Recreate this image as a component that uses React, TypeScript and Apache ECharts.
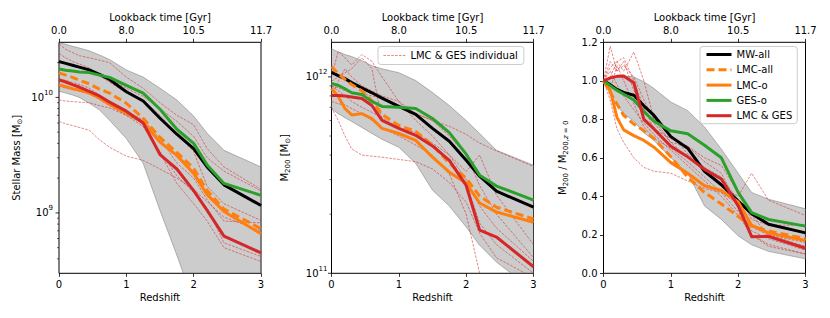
import React, { useEffect, useRef } from 'react';
import * as echarts from 'echarts';

const FONT = 'DejaVu Sans';

// Redshift sample points shared by all curves
const Z = [0, 0.1, 0.2, 0.3, 0.45, 0.6, 0.75, 1.0, 1.25, 1.5, 1.75, 2.0, 2.2, 2.45, 3.0];
const LOOKBACK_LABELS = ['0.0', '8.0', '10.5', '11.7'];

// ---------- Panel 1: stellar mass [Msun] ----------
const SM_BAND_HI = [2.97e10, 2.88e10, 2.77e10, 2.68e10, 2.53e10, 2.33e10, 2.13e10, 1.73e10, 1.5e10, 1.2e10, 9.5e9, 6.9e9, 4.9e9, 3.48e9, 2.5e9];
const SM_BAND_LO = [1.13e10, 1.09e10, 1.05e10, 1.0e10, 8.9e9, 7.8e9, 6.35e9, 4.4e9, 2.69e9, 1.05e9, 4.3e8, 1.7e8, 1.1e8, 7e7, 4e7];
const SM_MW_ALL = [2.04e10, 1.97e10, 1.9e10, 1.83e10, 1.73e10, 1.58e10, 1.43e10, 1.12e10, 9.3e9, 6.6e9, 4.8e9, 3.6e9, 2.5e9, 1.75e9, 1.16e9];
const SM_LMC_ALL = [1.63e10, 1.56e10, 1.49e10, 1.41e10, 1.31e10, 1.18e10, 1.09e10, 8.9e9, 6.6e9, 4.5e9, 3.34e9, 2.43e9, 1.56e9, 1.08e9, 7.3e8];
const SM_LMC_O = [1.29e10, 1.24e10, 1.19e10, 1.16e10, 1.09e10, 9.9e9, 8.7e9, 7.3e9, 6.1e9, 4.1e9, 3.15e9, 2.2e9, 1.44e9, 1.03e9, 6.6e8];
const SM_GES_O = [1.76e10, 1.72e10, 1.69e10, 1.66e10, 1.64e10, 1.56e10, 1.49e10, 1.27e10, 1.09e10, 7.9e9, 5.3e9, 4.0e9, 2.6e9, 1.8e9, 1.42e9];
const SM_LMC_GES = [1.42e10, 1.36e10, 1.29e10, 1.23e10, 1.13e10, 1.03e10, 9.1e9, 7.6e9, 6.0e9, 3.2e9, 2.4e9, 1.56e9, 1.05e9, 6.3e8, 4.5e8];
const SM_IND_1 = [2.9e10, 2.6e10, 2.45e10, 2.3e10, 2.2e10, 2.1e10, 2.0e10, 1.5e10, 1.2e10, 9e9, 7e9, 5.8e9, 3.6e9, 2.5e9, 1.6e9];
const SM_IND_2 = [6.2e9, 5.9e9, 5.7e9, 5.5e9, 5.2e9, 4.3e9, 3.7e9, 3.1e9, 2.85e9, 2.4e9, 2.0e9, 1.6e9, 1.25e9, 9.2e8, 7e8];
const SM_IND_3 = [9.5e9, 9.3e9, 9.2e9, 9.1e9, 9.0e9, 8.5e9, 8.1e9, 7.0e9, 6.0e9, 3.3e9, 1.8e9, 1.2e9, 8.5e8, 5e8, 3.8e8];
const SM_IND_4 = [2.4e10, 2.2e10, 2.05e10, 1.95e10, 1.8e10, 1.55e10, 1.35e10, 1.1e10, 9.5e9, 7e9, 4.8e9, 3.4e9, 1.7e9, 1.2e9, 8.6e8];
const SM_IND_5 = [2.1e10, 2.0e10, 1.9e10, 1.85e10, 1.75e10, 1.6e10, 1.45e10, 1.2e10, 1.02e10, 8.0e9, 6.2e9, 4.6e9, 3.0e9, 2.3e9, 1.55e9];
const SM_IND_6 = [1.25e10, 1.2e10, 1.17e10, 1.13e10, 1.08e10, 9.6e9, 8.5e9, 7.0e9, 5.6e9, 3.4e9, 2.1e9, 1.5e9, 1.1e9, 5.5e8, 4.2e8];
const SM_IND_7 = [1.45e10, 1.4e10, 1.35e10, 1.3e10, 1.2e10, 1.05e10, 9.2e9, 7.6e9, 6.4e9, 4.4e9, 2.7e9, 2.0e9, 1.3e9, 8.5e8, 8.2e8];
const SM_MAJOR_TICKS = [1e9, 1e10];
const SM_MINOR_TICKS = [4e8, 5e8, 6e8, 7e8, 8e8, 9e8, 2e9, 3e9, 4e9, 5e9, 6e9, 7e9, 8e9, 9e9, 2e10];

// ---------- Panel 2: M200 [Msun] ----------
const M_BAND_HI = [1.39e12, 1.34e12, 1.3e12, 1.27e12, 1.21e12, 1.14e12, 1.1e12, 1.05e12, 9.58e11, 8.32e11, 7.15e11, 6.0e11, 5.15e11, 4.23e11, 3.55e11];
const M_BAND_LO = [6.9e11, 6.5e11, 6.2e11, 5.93e11, 5.53e11, 5.15e11, 4.81e11, 4.38e11, 3.63e11, 2.65e11, 2.2e11, 1.72e11, 1.39e11, 1.14e11, 8.2e10];
const M_MW_ALL = [1.055e12, 1.015e12, 9.8e11, 9.35e11, 8.8e11, 8.3e11, 7.8e11, 7.07e11, 6.44e11, 5.47e11, 4.7e11, 3.76e11, 3.12e11, 2.62e11, 2.17e11];
const M_LMC_ALL = [1.13e12, 1.04e12, 9.7e11, 9.14e11, 8.5e11, 7.58e11, 6.44e11, 5.66e11, 5.28e11, 4.5e11, 3.63e11, 3.05e11, 2.47e11, 2.17e11, 1.89e11];
const M_LMC_O = [8.72e11, 7.94e11, 6.9e11, 6.4e11, 6.5e11, 6.14e11, 5.47e11, 5.15e11, 4.75e11, 3.9e11, 3.27e11, 2.87e11, 2.28e11, 2.05e11, 1.82e11];
const M_GES_O = [9.25e11, 9.05e11, 8.7e11, 8.3e11, 8.13e11, 7.5e11, 7.07e11, 7.0e11, 6.9e11, 6.14e11, 5.2e11, 4.04e11, 3.16e11, 2.78e11, 2.36e11];
const M_LMC_GES = [8.04e11, 8.04e11, 8.0e11, 7.9e11, 7.76e11, 7.15e11, 6.0e11, 5.47e11, 5.04e11, 4.45e11, 3.76e11, 2.8e11, 1.66e11, 1.53e11, 1.08e11];
const M_IND_1 = [1.0e12, 1.35e12, 1.25e12, 1.15e12, 1.3e12, 1.2e12, 1.0e12, 7.5e11, 6.5e11, 6.0e11, 5.0e11, 4.0e11, 2.8e11, 2.0e11, 1.2e11];
const M_IND_2 = [9.0e11, 8.8e11, 8.5e11, 8.3e11, 8.2e11, 8.0e11, 7.8e11, 7.0e11, 6.5e11, 6.0e11, 5.6e11, 5.1e11, 4.6e11, 4.2e11, 3.5e11];
const M_IND_3 = [7.5e11, 7.3e11, 7.2e11, 6.9e11, 6.5e11, 6.0e11, 5.5e11, 5.0e11, 4.5e11, 4.0e11, 3.2e11, 2.0e11, 1.0e11, 7e10, 5e10];
const M_IND_4 = [7.0e11, 6.0e11, 5.0e11, 4.3e11, 4.0e11, 3.95e11, 3.9e11, 3.8e11, 3.7e11, 3.4e11, 2.9e11, 2.3e11, 1.6e11, 1.2e11, 9.5e10];
const M_IND_5 = [8.0e11, 9.5e11, 1.1e12, 1.0e12, 9.0e11, 8.5e11, 8.0e11, 7.5e11, 6.0e11, 5.0e11, 4.0e11, 3.3e11, 4.0e11, 2.5e11, 1.4e11];
const M_IND_6 = [9.0e11, 8.5e11, 8.0e11, 7.5e11, 7.0e11, 6.6e11, 6.2e11, 5.5e11, 5.0e11, 4.4e11, 3.8e11, 2.9e11, 1.8e11, 1.4e11, 1.0e11];
const M_IND_7 = [9.5e11, 1.0e12, 1.05e12, 1.1e12, 1.25e12, 1.1e12, 6.0e11, 5.5e11, 5.2e11, 4.6e11, 4.0e11, 3.0e11, 2.2e11, 1.7e11, 1.15e11];
const M_MAJOR_TICKS = [1e11, 1e12];
const M_MINOR_TICKS = [2e11, 3e11, 4e11, 5e11, 6e11, 7e11, 8e11, 9e11];

// ---------- Panel 3: M200 / M200(z=0) ----------
const N_BAND_HI = [1.0, 1.01, 1.02, 1.025, 1.02, 0.995, 0.96, 0.89, 0.845, 0.76, 0.645, 0.52, 0.42, 0.385, 0.335];
const N_BAND_LO = [1.0, 0.93, 0.87, 0.83, 0.79, 0.73, 0.69, 0.6, 0.52, 0.35, 0.28, 0.195, 0.148, 0.114, 0.075];
const N_MW_ALL = [1.0, 0.98, 0.955, 0.94, 0.925, 0.87, 0.82, 0.71, 0.65, 0.53, 0.46, 0.375, 0.31, 0.255, 0.21];
const N_LMC_ALL = [1.0, 0.94, 0.88, 0.82, 0.775, 0.74, 0.7, 0.605, 0.5, 0.42, 0.36, 0.295, 0.245, 0.22, 0.18];
const N_LMC_O = [1.0, 0.95, 0.81, 0.745, 0.715, 0.69, 0.655, 0.575, 0.52, 0.455, 0.43, 0.37, 0.25, 0.21, 0.17];
const N_GES_O = [1.0, 0.975, 0.95, 0.93, 0.9, 0.84, 0.79, 0.74, 0.725, 0.665, 0.6, 0.42, 0.315, 0.28, 0.245];
const N_LMC_GES = [1.0, 1.015, 1.023, 1.025, 0.99, 0.8, 0.75, 0.66, 0.605, 0.54, 0.49, 0.35, 0.19, 0.192, 0.13];
const N_IND_1 = [1.0, 1.18, 1.05, 1.08, 1.02, 0.9, 0.8, 0.72, 0.62, 0.55, 0.5, 0.38, 0.3, 0.2, 0.14];
const N_IND_2 = [1.0, 1.07, 1.1, 1.05, 1.15, 1.0, 0.8, 0.68, 0.66, 0.58, 0.52, 0.35, 0.22, 0.18, 0.12];
const N_IND_3 = [1.0, 0.9, 0.75, 0.68, 0.6, 0.55, 0.53, 0.52, 0.48, 0.44, 0.42, 0.32, 0.2, 0.14, 0.1];
const N_IND_4 = [1.0, 1.1, 1.05, 1.1, 0.95, 0.85, 0.78, 0.68, 0.6, 0.55, 0.45, 0.4, 0.52, 0.38, 0.3];
const N_IND_5 = [1.0, 0.95, 1.08, 1.0, 0.88, 0.76, 0.7, 0.65, 0.58, 0.5, 0.42, 0.36, 0.24, 0.2, 0.16];
const N_IND_6 = [1.0, 1.05, 0.98, 0.92, 0.85, 0.78, 0.72, 0.64, 0.56, 0.48, 0.4, 0.3, 0.2, 0.15, 0.1];
const N_IND_7 = [1.0, 1.02, 1.1, 1.12, 1.0, 0.86, 0.75, 0.7, 0.66, 0.6, 0.56, 0.42, 0.28, 0.25, 0.25];

const BLACK = '#000000';
const ORANGE = '#ff7f0e';
const GREEN = '#2ca02c';
const RED = '#d62728';

const GRID_LEFTS = [59, 331.5, 603.5];
const GRID_TOP = 42.3;
const GRID_W = 202;
const GRID_H = 231;

const IND_NAME = 'LMC & GES individual';

function mainSeries(name: string, values: number[], color: string, dashed: boolean, p: number) {
  return {
    type: 'line',
    name,
    xAxisIndex: 2 * p,
    yAxisIndex: p,
    data: Z.map((z, i) => [z, values[i]]),
    symbol: 'none',
    showSymbol: false,
    clip: true,
    z: 3,
    silent: true,
    lineStyle: { color, width: 3, type: dashed ? [8, 4] : 'solid', cap: 'butt', join: 'round' },
    itemStyle: { color },
    emphasis: { disabled: true },
  };
}

function indSeries(values: number[], p: number) {
  return {
    type: 'line',
    name: IND_NAME,
    xAxisIndex: 2 * p,
    yAxisIndex: p,
    data: Z.map((z, i) => [z, values[i]]),
    symbol: 'none',
    showSymbol: false,
    clip: true,
    z: 2,
    silent: true,
    lineStyle: { color: 'rgba(214,39,40,0.7)', width: 0.8, type: [2.6, 1.3] },
    itemStyle: { color: 'rgba(214,39,40,0.7)' },
    emphasis: { disabled: true },
  };
}

function bandSeries(hi: number[], lo: number[], p: number) {
  return {
    type: 'custom',
    xAxisIndex: 2 * p,
    yAxisIndex: p,
    silent: true,
    clip: true,
    z: 1,
    data: [[Z[0], hi[0]]],
    renderItem: (_params: any, api: any) => {
      const pts: number[][] = [];
      for (let i = 0; i < Z.length; i++) pts.push(api.coord([Z[i], hi[i]]));
      for (let i = Z.length - 1; i >= 0; i--) pts.push(api.coord([Z[i], lo[i]]));
      return {
        type: 'polygon',
        shape: { points: pts },
        style: { fill: 'rgba(128,128,128,0.4)', stroke: 'rgba(100,100,100,0.55)', lineWidth: 0.8 },
      };
    },
  };
}

function tickSeries(major: number[], minor: number[], p: number) {
  const data = [...major.map((v) => [0, v, 1]), ...minor.map((v) => [0, v, 0])];
  return {
    type: 'custom',
    xAxisIndex: 2 * p,
    yAxisIndex: p,
    silent: true,
    clip: false,
    z: 5,
    data,
    renderItem: (_params: any, api: any) => {
      const pt = api.coord([api.value(0), api.value(1)]);
      const isMajor = api.value(2) === 1;
      const len = isMajor ? 3.5 : 2;
      return {
        type: 'line',
        shape: { x1: pt[0] - len, y1: pt[1], x2: pt[0], y2: pt[1] },
        style: { stroke: '#000', lineWidth: isMajor ? 0.8 : 0.6 },
      };
    },
  };
}

const labelStyle = { fontFamily: FONT, fontSize: 10, color: '#000' };

function xAxes(p: number) {
  return [
    {
      type: 'value',
      gridIndex: p,
      position: 'bottom',
      min: 0,
      max: 3,
      interval: 1,
      name: 'Redshift',
      nameLocation: 'middle',
      nameGap: 19,
      nameMoveOverlap: false,
      nameTextStyle: { ...labelStyle },
      axisLine: { show: false },
      axisTick: { show: true, length: 3.5, lineStyle: { color: '#000', width: 0.8 } },
      axisLabel: { ...labelStyle, margin: 6, formatter: (v: number) => String(v) },
      splitLine: { show: false },
    },
    {
      type: 'value',
      gridIndex: p,
      position: 'top',
      min: 0,
      max: 3,
      interval: 1,
      name: 'Lookback time [Gyr]',
      nameLocation: 'middle',
      nameGap: 20,
      nameMoveOverlap: false,
      nameTextStyle: { ...labelStyle },
      axisLine: { show: false },
      axisTick: { show: true, length: 3.5, lineStyle: { color: '#000', width: 0.8 } },
      axisLabel: { ...labelStyle, margin: 7, formatter: (v: number) => LOOKBACK_LABELS[Math.round(v)] },
      splitLine: { show: false },
    },
  ];
}

const expRich = {
  sup: { fontFamily: FONT, fontSize: 7, lineHeight: 8, verticalAlign: 'top', color: '#000' },
};
const subRich = {
  sub: { fontFamily: FONT, fontSize: 7, lineHeight: 8, verticalAlign: 'bottom', color: '#000' },
  subi: { fontFamily: FONT, fontSize: 7, lineHeight: 8, verticalAlign: 'bottom', color: '#000', fontStyle: 'italic' },
};

function logYAxis(p: number, min: number, max: number, name: string, showMin: boolean, margin: number, nameGap: number) {
  return {
    type: 'log',
    logBase: 10,
    gridIndex: p,
    min,
    max,
    name,
    nameLocation: 'middle',
    nameGap,
    nameRotate: 90,
    nameMoveOverlap: false,
    nameTextStyle: { ...labelStyle, lineHeight: 14, rich: subRich },
    axisLine: { show: false },
    axisTick: { show: false },
    minorTick: { show: false },
    splitLine: { show: false },
    axisLabel: {
      ...labelStyle,
      lineHeight: 16,
      margin,
      showMinLabel: showMin,
      showMaxLabel: false,
      formatter: (v: number) => `10{sup|${Math.round(Math.log10(v))}}`,
      rich: expRich,
    },
  };
}

function buildOption() {
  const grid = GRID_LEFTS.map((left) => ({
    left,
    top: GRID_TOP,
    width: GRID_W,
    height: GRID_H,
    show: true,
    borderColor: '#000',
    borderWidth: 1,
    backgroundColor: 'transparent',
    containLabel: false,
    outerBoundsMode: 'none',
  }));

  const xAxis = [...xAxes(0), ...xAxes(1), ...xAxes(2)];

  const yAxis = [
    logYAxis(0, 3e8, 3e10, 'Stellar Mass [M{sub|⊙}]', false, 6, 36),
    logYAxis(1, 1e11, 1.5e12, 'M{sub|200} [M{sub|⊙}]', true, 4, 40),
    {
      type: 'value',
      gridIndex: 2,
      min: 0,
      max: 1.2,
      interval: 0.2,
      name: 'M{sub|200} / M{sub|200,}{subi|z}{sub| = 0}',
      nameLocation: 'middle',
      nameGap: 34,
      nameRotate: 90,
      nameMoveOverlap: false,
      nameTextStyle: { ...labelStyle, lineHeight: 14, rich: subRich },
      axisLine: { show: false },
      axisTick: { show: true, length: 3.5, lineStyle: { color: '#000', width: 0.8 } },
      splitLine: { show: false },
      axisLabel: { ...labelStyle, margin: 6, formatter: (v: number) => v.toFixed(1) },
    },
  ];

  const panels = [
    {
      band: [SM_BAND_HI, SM_BAND_LO],
      ind: [SM_IND_1, SM_IND_2, SM_IND_3, SM_IND_4, SM_IND_5, SM_IND_6, SM_IND_7],
      main: [SM_MW_ALL, SM_LMC_ALL, SM_LMC_O, SM_GES_O, SM_LMC_GES],
    },
    {
      band: [M_BAND_HI, M_BAND_LO],
      ind: [M_IND_1, M_IND_2, M_IND_3, M_IND_4, M_IND_5, M_IND_6, M_IND_7],
      main: [M_MW_ALL, M_LMC_ALL, M_LMC_O, M_GES_O, M_LMC_GES],
    },
    {
      band: [N_BAND_HI, N_BAND_LO],
      ind: [N_IND_1, N_IND_2, N_IND_3, N_IND_4, N_IND_5, N_IND_6, N_IND_7],
      main: [N_MW_ALL, N_LMC_ALL, N_LMC_O, N_GES_O, N_LMC_GES],
    },
  ];

  const mainDefs: [string, string, boolean][] = [
    ['MW-all', BLACK, false],
    ['LMC-all', ORANGE, true],
    ['LMC-o', ORANGE, false],
    ['GES-o', GREEN, false],
    ['LMC & GES', RED, false],
  ];

  const series: any[] = [];
  panels.forEach((pan, p) => {
    series.push(bandSeries(pan.band[0], pan.band[1], p));
    pan.ind.forEach((arr) => series.push(indSeries(arr, p)));
    pan.main.forEach((arr, k) => series.push(mainSeries(mainDefs[k][0], arr, mainDefs[k][1], mainDefs[k][2], p)));
  });
  series.push(tickSeries(SM_MAJOR_TICKS, SM_MINOR_TICKS, 0));
  series.push(tickSeries(M_MAJOR_TICKS, M_MINOR_TICKS, 1));

  const legendBase = {
    orient: 'vertical',
    selectedMode: false,
    backgroundColor: 'rgba(255,255,255,0.8)',
    borderColor: '#cccccc',
    borderWidth: 1,
    borderRadius: 3,
    itemHeight: 10,
    itemStyle: { opacity: 0 },
    textStyle: { ...labelStyle, lineHeight: 10 },
    z: 10,
  };

  const legend = [
    {
      ...legendBase,
      left: 378,
      top: 46.5,
      padding: [4, 6, 4, 5],
      itemWidth: 22,
      lineStyle: { width: 0.8, opacity: 1 },
      data: [{ name: IND_NAME }],
    },
    {
      ...legendBase,
      left: 700,
      top: 46.5,
      padding: [3, 5, 3, 5],
      itemWidth: 25,
      itemGap: 5.3,
      lineStyle: { width: 3, opacity: 1 },
      data: mainDefs.map((d) => ({ name: d[0] })),
    },
  ];

  return {
    animation: false,
    backgroundColor: '#ffffff',
    textStyle: { fontFamily: FONT },
    grid,
    xAxis,
    yAxis,
    legend,
    series,
  };
}

export default function App() {
  const ref = useRef<HTMLDivElement>(null);
  useEffect(() => {
    if (!ref.current) return;
    const chart = echarts.init(ref.current, null, { renderer: 'svg' });
    chart.setOption(buildOption() as any);
    return () => chart.dispose();
  }, []);
  return (
    <div
      ref={ref}
      style={{ position: 'absolute', left: 0, top: 0, width: 830, height: 318, background: '#fff' }}
    />
  );
}
